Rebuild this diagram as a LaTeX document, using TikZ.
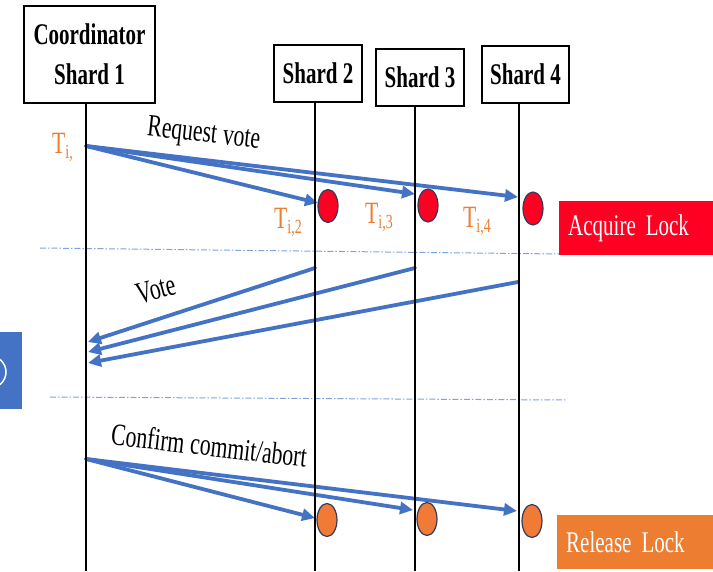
\documentclass[tikz,border=0pt]{standalone}
\usepackage{fontspec}
\setmainfont{Liberation Serif}[FakeStretch=0.7]
\usetikzlibrary{arrows.meta,shapes.geometric}
\definecolor{msgblue}{HTML}{4472C4}
\definecolor{tlabel}{HTML}{ED7D31}
\definecolor{lockred}{HTML}{FF0022}
\definecolor{lockorange}{HTML}{ED7D31}
\definecolor{dotorange}{HTML}{F07A36}
\definecolor{rimblue}{HTML}{2F3D5C}
\definecolor{sepblue}{HTML}{7FA3DC}
\newcommand\tsub[1]{\raisebox{-5pt}{\fontsize{20}{20}\selectfont #1}}
% narrower interword space for the stretched font
\newcommand\tightwords{\spaceskip=6pt plus 1pt minus 1pt\relax}
\begin{document}
\begin{tikzpicture}[x=1pt,y=-1pt,
  shardbox/.style={draw=black, line width=2pt, fill=white, inner sep=0pt,
    font=\fontsize{30}{40}\selectfont\bfseries, align=center},
  lifeline/.style={line width=2.5pt, black},
  msg/.style={draw=msgblue, line width=3.8pt, line cap=round,
    -{Triangle[length=13pt,width=12pt]}},
  msgtext/.style={font=\fontsize{31}{36}\selectfont\tightwords, inner sep=0pt, anchor=base},
  tlab/.style={text=tlabel, font=\fontsize{31}{36}\selectfont, inner sep=0pt, anchor=base west},
  lockdot/.style={ellipse, draw=rimblue, line width=1.2pt, minimum width=20pt, minimum height=33pt, inner sep=0pt},
  lockbox/.style={text=white, font=\fontsize{30}{34}\selectfont\tightwords, anchor=north west,
    inner xsep=9pt, inner ysep=0pt, minimum height=54pt, align=left},
  separator/.style={draw=sepblue, line width=1pt, dash pattern=on 6pt off 2pt on 1.5pt off 2pt}
]
\useasboundingbox (0,0) rectangle (713,571);

% participants
\node[shardbox, minimum width=131pt, minimum height=97pt] (c1) at (89.5,54.5) {Coordinator\\Shard 1};
\node[shardbox, minimum width=88pt, minimum height=57pt] (s2) at (318,73.5) {Shard 2};
\node[shardbox, minimum width=88pt, minimum height=57pt] (s3) at (420,77.5) {Shard 3};
\node[shardbox, minimum width=87pt, minimum height=57pt] (s4) at (525.5,74.5) {Shard 4};

% lifeline ends
\coordinate (l1t) at (86,103);  \coordinate (l1b) at (86,571);
\coordinate (l2t) at (315,102); \coordinate (l2b) at (315,571);
\coordinate (l3t) at (415,106); \coordinate (l3b) at (415,571);
\coordinate (l4t) at (519,103); \coordinate (l4b) at (519,571);

% phase separators
\coordinate (d1a) at (40,248);  \coordinate (d1b) at (560,254);
\coordinate (d2a) at (50,397);  \coordinate (d2b) at (566,400);
\draw[separator] (d1a) -- (d1b);
\draw[separator] (d2a) -- (d2b);

% message anchor points
\coordinate (req) at (86,146);
\coordinate (rq2) at (318,203);
\coordinate (rq3) at (415,194);
\coordinate (rq4) at (518,197);
\coordinate (vt2) at (315,268);
\coordinate (vt3) at (415,268);
\coordinate (vt4) at (518,282);
\coordinate (vr2) at (88,342);
\coordinate (vr3) at (88,352);
\coordinate (vr4) at (88,363);
\coordinate (cf)  at (86,459);
\coordinate (cf2) at (315,518);
\coordinate (cf3) at (413,510);
\coordinate (cf4) at (517,511);

% request vote
\draw[msg] (req) -- (rq4);
\draw[msg] (req) -- (rq3);
\draw[msg] (req) -- (rq2);
% votes
\draw[msg] (vt2) -- (vr2);
\draw[msg] (vt3) -- (vr3);
\draw[msg] (vt4) -- (vr4);
% confirm commit/abort
\draw[msg] (cf) -- (cf4);
\draw[msg] (cf) -- (cf3);
\draw[msg] (cf) -- (cf2);

% lifelines
\draw[lifeline] (l1t) -- (l1b);
\draw[lifeline] (l2t) -- (l2b);
\draw[lifeline] (l3t) -- (l3b);
\draw[lifeline] (l4t) -- (l4b);

% lock acquire / release markers
\node[lockdot, fill=lockred] (a2) at (328,206) {};
\node[lockdot, fill=lockred] (a3) at (428,205.5) {};
\node[lockdot, fill=lockred] (a4) at (533,208.5) {};
\node[lockdot, fill=dotorange] (r2) at (327,520) {};
\node[lockdot, fill=dotorange] (r3) at (427,519) {};
\node[lockdot, fill=dotorange] (r4) at (532,521) {};

% message labels
\node[msgtext, rotate=-6.3] (lreq) at (203,142) {Request vote};
\node[msgtext, rotate=15] (lvote) at (159,299) {Vote};
\node[msgtext, rotate=-6.5] (lconf) at (208,456) {Confirm commit/abort};

% transaction labels
\node[tlab] (ti)  at (52,153)  {T\tsub{i,}};
\node[tlab] (ti2) at (274,228) {T\tsub{i,2}};
\node[tlab] (ti3) at (365,223) {T\tsub{i,3}};
\node[tlab] (ti4) at (463,227) {T\tsub{i,4}};

% lock legends
\node[lockbox, fill=lockred, text width=136pt] (acq) at (559,201) {Acquire Lock};
\node[lockbox, fill=lockorange, text width=138pt] (rel) at (557,515) {Release Lock};

% partial icon at the left edge
\fill[msgblue] (0,332) rectangle (22,409);
\begin{scope}
  \clip (0,332) rectangle (22,409);
  \draw[white, line width=1.5pt] (-10,372) circle[radius=16];
\end{scope}
\end{tikzpicture}
\end{document}
